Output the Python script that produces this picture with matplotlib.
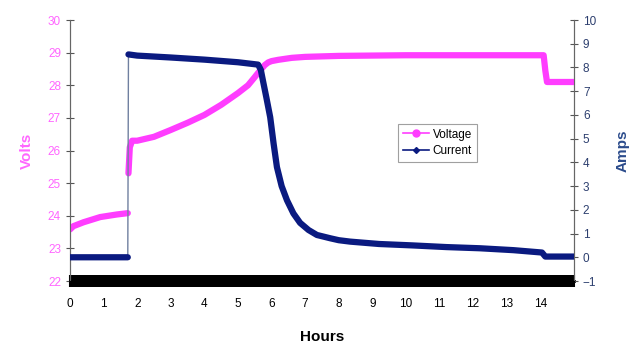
import matplotlib.pyplot as plt
import numpy as np
from matplotlib.lines import Line2D

plt.rcParams['font.family'] = ['Liberation Sans', 'DejaVu Sans']

# Datos
horas_v = [0.0, 0.1, 0.4, 0.9, 1.4, 1.72, 1.74, 1.78, 1.85, 2.0, 2.5, 3.0, 3.5, 4.0,
           4.5, 5.0, 5.3, 5.5, 5.6, 5.7, 5.8, 5.9, 6.0, 6.2, 6.6, 7.0, 8.0, 10.0,
           12.0, 14.1, 14.15, 14.2, 15.0]
voltios = [23.58, 23.68, 23.8, 23.96, 24.04, 24.08, 25.3, 26.1, 26.3, 26.3, 26.42,
           26.63, 26.85, 27.09, 27.4, 27.76, 28.0, 28.25, 28.38, 28.5, 28.62, 28.7,
           28.74, 28.78, 28.84, 28.87, 28.9, 28.92, 28.92, 28.92, 28.45, 28.1, 28.1]

horas_c = [0.0, 1.72, 1.74, 2.0, 3.0, 4.0, 5.0, 5.6, 5.68, 5.75, 5.85, 5.96, 6.06,
           6.16, 6.3, 6.46, 6.65, 6.85, 7.1, 7.35, 7.75, 8.0, 8.34, 9.2, 10.2, 11.2,
           12.2, 13.2, 14.05, 14.15, 15.0]
amperios = [0.0, 0.0, 8.55, 8.5, 8.42, 8.33, 8.22, 8.12, 7.9, 7.4, 6.7, 5.9, 4.8,
            3.8, 3.0, 2.4, 1.85, 1.45, 1.15, 0.94, 0.8, 0.72, 0.66, 0.56, 0.5, 0.43,
            0.38, 0.3, 0.2, 0.03, 0.03]

ticks_x = list(range(0, 15))
ticks_v = list(range(22, 31))
ticks_a = list(range(-1, 11))

colors = {'pink': '#ff3dff', 'navy': '#0a1a80', 'pink_txt': '#ff66ff',
          'navy_txt': '#2c3e6e'}


def cortar_saltos(x, y, umbral):
    # inserta NaN donde hay un salto grande para no dibujar la línea gruesa
    x = np.array(x, dtype=float)
    y = np.array(y, dtype=float)
    idx = np.where(np.abs(np.diff(y)) > umbral)[0] + 1
    return np.insert(x, idx, np.nan), np.insert(y, idx, np.nan)


fig = plt.figure(figsize=(6.33, 3.45), dpi=100, facecolor='white')
ax1 = fig.add_axes([0.1106, 0.1855, 0.796, 0.7565])
ax2 = ax1.twinx()

# Voltaje
hv_g, vv_g = cortar_saltos(horas_v, voltios, 1.0)
ax1.plot(hv_g, vv_g, color=colors['pink'], linewidth=4.5,
         solid_capstyle='round', zorder=3)

# Corriente: línea fina en el salto, gruesa en el resto
ax2.plot(horas_c, amperios, color='#7080a0', linewidth=1.0, zorder=2)
hc_g, ac_g = cortar_saltos(horas_c, amperios, 5.0)
ax2.plot(hc_g, ac_g, color=colors['navy'], linewidth=4.5,
         solid_capstyle='round', zorder=3)

ax1.set_xlim(0, 15)
ax1.set_ylim(22, 30)
ax2.set_ylim(-1, 10)

ax1.set_xticks(ticks_x)
ax1.set_xticks(np.arange(0, 15.01, 0.04), minor=True)
ax1.tick_params(axis='x', which='both', length=9, width=1.5, direction='inout',
                color='black')
ax1.tick_params(axis='x', which='major', pad=8, labelsize=8.5)
ax1.spines['bottom'].set_linewidth(2)

ax1.set_yticks(ticks_v)
ax1.tick_params(axis='y', length=6, direction='inout', colors='#555555',
                labelcolor=colors['pink_txt'], labelsize=8.5)
ax2.set_yticks(ticks_a)
ax2.tick_params(axis='y', length=6, direction='inout', colors='#555555',
                labelcolor=colors['navy_txt'], labelsize=8.5)

for ax in (ax1, ax2):
    ax.spines['top'].set_visible(False)
    ax.spines['left'].set_color('#666666')
    ax.spines['right'].set_color('#666666')

ax1.set_ylabel('Volts', color=colors['pink_txt'], fontsize=11, fontweight='bold',
               labelpad=10)
ax2.set_ylabel('Amps', color='#2c4c8c', fontsize=11, fontweight='bold',
               labelpad=14)
ax1.set_xlabel('Hours', fontsize=11, fontweight='bold', labelpad=14)

handles = [
    Line2D([], [], color=colors['pink'], marker='o', markersize=5, linewidth=1.2),
    Line2D([], [], color=colors['navy'], marker='D', markersize=3, linewidth=1.2),
]
leg = ax1.legend(handles, ['Voltage', 'Current'], loc='upper left',
                 bbox_to_anchor=(0.64, 0.625), fontsize=8.5, frameon=True,
                 fancybox=False, edgecolor='#888888', handlelength=2.2,
                 borderpad=0.4, labelspacing=0.4, handletextpad=0.3)
leg.get_frame().set_linewidth(0.8)

plt.savefig('out.png', dpi=100, facecolor='white')
